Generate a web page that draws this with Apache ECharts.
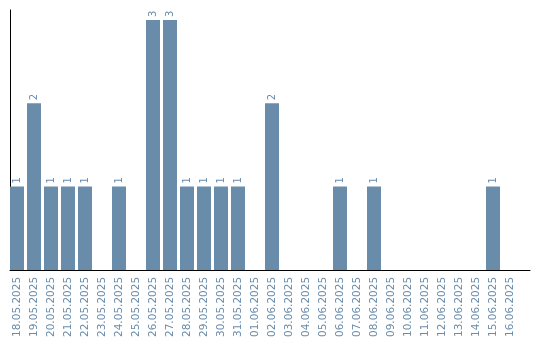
<!DOCTYPE html>
<html>
<head>
<meta charset="utf-8">
<script src="https://cdn.jsdelivr.net/npm/echarts@6/dist/echarts.min.js"></script>
<style>html,body{margin:0;padding:0;background:#fff}#c{width:540px;height:340px}</style>
</head>
<body>
<div id="c"></div>
<script>
const categories = ['18.05.2025','19.05.2025','20.05.2025','21.05.2025','22.05.2025','23.05.2025','24.05.2025','25.05.2025','26.05.2025','27.05.2025','28.05.2025','29.05.2025','30.05.2025','31.05.2025','01.06.2025','02.06.2025','03.06.2025','04.06.2025','05.06.2025','06.06.2025','07.06.2025','08.06.2025','09.06.2025','10.06.2025','11.06.2025','12.06.2025','13.06.2025','14.06.2025','15.06.2025','16.06.2025'];
const counts = [1,2,1,1,1,0,1,0,3,3,1,1,1,1,0,2,0,0,0,1,0,1,0,0,0,0,0,0,1,0];

const barColor = '#6a8cab';
const textColor = '#6a8cab';
const font = 'DejaVu Sans';

const chart = echarts.init(document.getElementById('c'), null, {renderer: 'canvas'});
chart.setOption({
  animation: false,
  grid: [
    {left: 8.5, top: 10, width: 510, height: 260},
    {left: 10, top: 10, width: 520, height: 260}
  ],
  xAxis: [
    {
      gridIndex: 0, type: 'category', data: categories, boundaryGap: true,
      axisLine: {show: false}, axisTick: {show: false},
      axisLabel: {rotate: 90, margin: 7, color: textColor, fontFamily: font, fontSize: 10.5, interval: 0}
    },
    {
      gridIndex: 1, type: 'value', min: 0, max: 1,
      axisLine: {show: true, lineStyle: {color: '#000', width: 1}},
      axisTick: {show: false}, axisLabel: {show: false}, splitLine: {show: false}
    }
  ],
  yAxis: [
    {
      gridIndex: 0, type: 'value', min: 0, max: 3.12,
      axisLine: {show: false}, axisTick: {show: false}, axisLabel: {show: false}, splitLine: {show: false}
    },
    {
      gridIndex: 1, type: 'value', min: 0, max: 1,
      axisLine: {show: true, lineStyle: {color: '#000', width: 1}},
      axisTick: {show: false}, axisLabel: {show: false}, splitLine: {show: false}
    }
  ],
  series: [{
    type: 'bar', xAxisIndex: 0, yAxisIndex: 0,
    data: counts.map(v => v === 0 ? {value: 0, label: {show: false}} : v),
    barWidth: 14,
    itemStyle: {color: barColor},
    label: {
      show: true, position: 'top', rotate: 90, align: 'left', verticalAlign: 'middle',
      distance: 3, color: textColor, fontFamily: font, fontSize: 10
    }
  }]
});
</script>
</body>
</html>
